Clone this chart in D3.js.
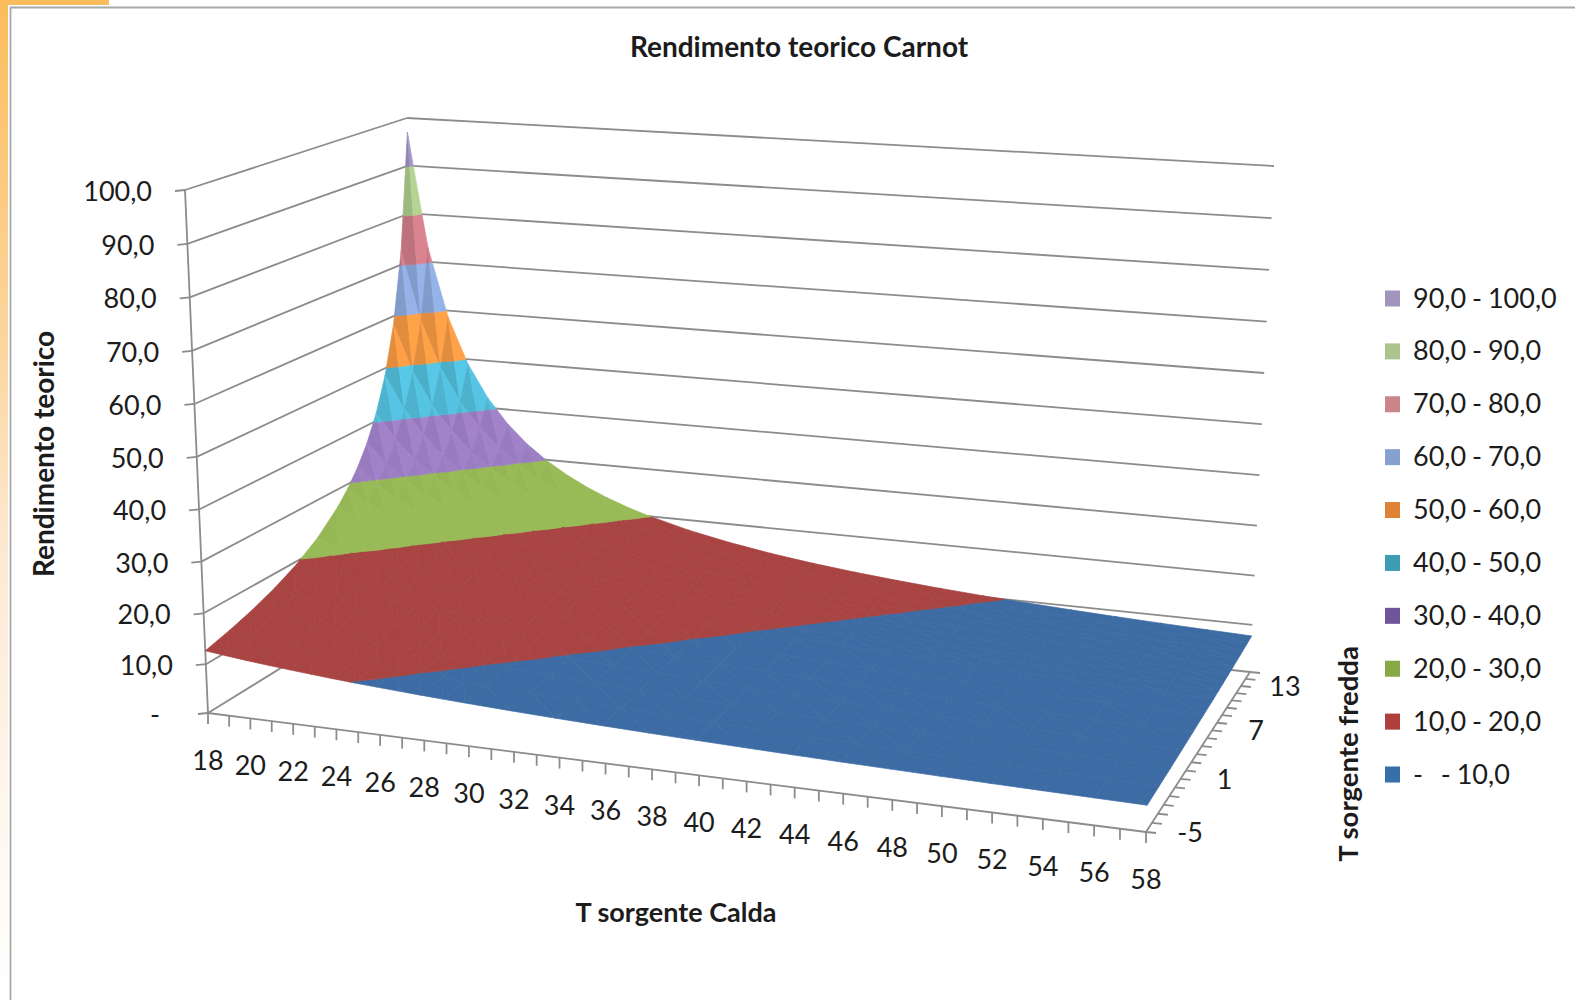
<!DOCTYPE html>
<html>
<head>
<meta charset="utf-8">
<script src="https://cdn.jsdelivr.net/npm/d3@7"></script>
<style>
  body { margin: 0; background: #fff; }
  text { font-family: Lato, sans-serif; fill: #1c1c1c; }
  .ttl { font-weight: 700; }
</style>
</head>
<body>
<div id="main"></div>
<script>
// T sorgente calda (columns of the surface)
const tCalda = [18,19,20,21,22,23,24,25,26,27,28,29,30,32,34,36,38,40,42,44,46,48,50,52,54,56,58];
// T sorgente fredda (rows of the surface)
const tFredda = [-5,-3,-1,1,3,5,7,8,9,10,11,12,13,14,15];
// rendimento teorico, one row per tFredda value
const rendimento = [
  [12.65,12.17,11.72,11.31,10.93,10.57,10.24,9.93,9.65,9.38,9.12,8.88,8.66,8.24,7.87,7.54,7.23,6.96,6.70,6.47,6.25,6.06,5.87,5.70,5.54,5.39,5.25],
  [13.86,13.27,12.74,12.25,11.80,11.38,11.00,10.64,10.31,10.00,9.71,9.44,9.18,8.71,8.30,7.92,7.59,7.28,7.00,6.74,6.51,6.29,6.09,5.91,5.74,5.58,5.43],
  [15.32,14.60,13.95,13.36,12.83,12.33,11.88,11.46,11.07,10.71,10.38,10.07,9.77,9.24,8.77,8.35,7.97,7.63,7.33,7.04,6.79,6.55,6.33,6.13,5.95,5.77,5.61],
  [17.12,16.22,15.42,14.70,14.05,13.45,12.91,12.42,11.96,11.54,11.15,10.79,10.45,9.84,9.30,8.83,8.41,8.03,7.68,7.37,7.09,6.83,6.59,6.37,6.17,5.98,5.81],
  [19.40,18.25,17.24,16.33,15.53,14.80,14.14,13.55,13.00,12.50,12.04,11.62,11.22,10.52,9.90,9.36,8.89,8.46,8.08,7.73,7.42,7.13,6.87,6.63,6.41,6.21,6.02],
  [22.38,20.86,19.53,18.38,17.35,16.44,15.63,14.90,14.24,13.64,13.09,12.58,12.12,11.30,10.59,9.97,9.42,8.94,8.51,8.13,7.78,7.47,7.18,6.91,6.67,6.45,6.25],
  [26.45,24.33,22.54,21.00,19.67,18.50,17.47,16.56,15.74,15.00,14.33,13.73,13.17,12.20,11.37,10.66,10.03,9.48,9.00,8.57,8.18,7.83,7.51,7.22,6.96,6.71,6.49],
  [29.10,26.55,24.42,22.62,21.07,19.73,18.56,17.53,16.61,15.79,15.05,14.38,13.77,12.71,11.81,11.04,10.37,9.78,9.26,8.81,8.39,8.03,7.69,7.39,7.11,6.85,6.62],
  [32.33,29.20,26.64,24.50,22.69,21.14,19.80,18.63,17.59,16.67,15.84,15.10,14.43,13.26,12.28,11.44,10.72,10.10,9.55,9.06,8.62,8.23,7.88,7.56,7.27,7.00,6.76],
  [36.38,32.44,29.30,26.73,24.58,22.77,21.21,19.87,18.69,17.65,16.72,15.89,15.15,13.86,12.79,11.88,11.11,10.43,9.84,9.32,8.86,8.45,8.08,7.74,7.43,7.15,6.90],
  [41.57,36.50,32.56,29.40,26.82,24.67,22.85,21.29,19.93,18.75,17.71,16.78,15.95,14.52,13.35,12.36,11.52,10.79,10.16,9.61,9.11,8.68,8.28,7.93,7.60,7.31,7.04],
  [48.50,41.71,36.63,32.67,29.50,26.91,24.75,22.92,21.36,20.00,18.81,17.76,16.83,15.25,13.95,12.88,11.96,11.18,10.50,9.91,9.38,8.92,8.50,8.13,7.79,7.48,7.20],
  [58.20,48.67,41.86,36.75,32.78,29.60,27.00,24.83,23.00,21.43,20.07,18.88,17.82,16.05,14.62,13.43,12.44,11.59,10.86,10.23,9.67,9.17,8.73,8.33,7.98,7.65,7.36],
  [72.75,58.40,48.83,42.00,36.88,32.89,29.70,27.09,24.92,23.08,21.50,20.13,18.94,16.94,15.35,14.05,12.96,12.04,11.25,10.57,9.97,9.44,8.97,8.55,8.18,7.83,7.52],
  [97.00,73.00,58.60,49.00,42.14,37.00,33.00,29.80,27.18,25.00,23.15,21.57,20.20,17.94,16.16,14.71,13.52,12.52,11.67,10.93,10.29,9.73,9.23,8.78,8.38,8.02,7.70]
];
const zTicks = [0,10,20,30,40,50,60,70,80,90,100];
const zTickLabels = ["-","10,0","20,0","30,0","40,0","50,0","60,0","70,0","80,0","90,0","100,0"];
const caldaLabels = [18,20,22,24,26,28,30,32,34,36,38,40,42,44,46,48,50,52,54,56,58];
const freddaLabels = [-5,1,7,13];
const bandLimits = [0,10,20,30,40,50,60,70,80,90,100];
const bandLabels = ["-   - 10,0","10,0 - 20,0","20,0 - 30,0","30,0 - 40,0","40,0 - 50,0","50,0 - 60,0","60,0 - 70,0","70,0 - 80,0","80,0 - 90,0","90,0 - 100,0"];
const bandColors = ["#3d6ba3","#a84442","#98ba57","#9d7fc4","#52bcd9","#f39743","#8ba7da","#cc7b88","#a9c68a","#9a8cbc"];
const legendColors = ["#376fa8","#b03f3c","#86a845","#70559a","#3c9cb4","#df8236","#87a1cf","#cb8487","#abc48d","#a195bd"];

const ctx = {
    w: 1575,
    h: 1000,
    // corners of the floor and of the top of the box: front-left, front-right, back-right, back-left
    floor: [[208,713],[1146,832],[1250,672],[420,582]],
    top: [[185,190],[1170,275],[1274,166],[407,118]]
};

const uScale = d3.scaleLinear().domain([18,58]).range([0,1]);
const vScale = d3.scaleLinear().domain([-5,15]).range([0,1]);
const zScale = d3.scalePow().exponent(1.03).domain([0,100]).range([0,1]);

// unit square -> quad (perspective)
function squareToQuad(q){
    let [p0,p1,p2,p3] = q;
    let sx = p0[0]-p1[0]+p2[0]-p3[0], sy = p0[1]-p1[1]+p2[1]-p3[1];
    let dx1 = p1[0]-p2[0], dx2 = p3[0]-p2[0], dy1 = p1[1]-p2[1], dy2 = p3[1]-p2[1];
    let den = dx1*dy2-dx2*dy1;
    let g = (sx*dy2-dx2*sy)/den, h = (dx1*sy-sx*dy1)/den;
    let a = p1[0]-p0[0]+g*p1[0], b = p3[0]-p0[0]+h*p3[0];
    let d = p1[1]-p0[1]+g*p1[1], e = p3[1]-p0[1]+h*p3[1];
    return function(u,v){
        let w = g*u+h*v+1;
        return [(a*u+b*v+p0[0])/w, (d*u+e*v+p0[1])/w];
    };
}
const floorMap = squareToQuad(ctx.floor);
const topMap = squareToQuad(ctx.top);

function project(calda, fredda, val){
    let u = uScale(calda), v = vScale(fredda), z = zScale(val);
    let a = floorMap(u,v), b = topMap(u,v);
    return [a[0]+(b[0]-a[0])*z, a[1]+(b[1]-a[1])*z];
}

// keep the part of a triangle whose value lies between lo and hi
function clipBand(tri, lo, hi){
    let clip = function(pts, inside, limit){
        let out = [];
        pts.forEach((p,i) => {
            let q = pts[(i+1)%pts.length];
            if(inside(p)) out.push(p);
            if(inside(p) !== inside(q)){
                let t = (limit-p[2])/(q[2]-p[2]);
                out.push([p[0]+(q[0]-p[0])*t, p[1]+(q[1]-p[1])*t, limit]);
            }
        });
        return out;
    };
    let res = clip(tri, (p) => p[2] >= lo, lo);
    if(res.length) res = clip(res, (p) => p[2] <= hi, hi);
    return res;
}

// brightness of a facet, flat facets stay at 1.
// the light sits across the mean slope so only neighbouring facets differ
function facetShade(tri){
    let P = tri.map((p) => [(p[0]-18)/20, (p[1]+5)/20, p[2]/100*0.35]);
    let a = [P[1][0]-P[0][0],P[1][1]-P[0][1],P[1][2]-P[0][2]];
    let b = [P[2][0]-P[0][0],P[2][1]-P[0][1],P[2][2]-P[0][2]];
    let n = [a[1]*b[2]-a[2]*b[1], a[2]*b[0]-a[0]*b[2], a[0]*b[1]-a[1]*b[0]];
    let len = Math.hypot(n[0],n[1],n[2]);
    if(n[2] < 0) len = -len;
    let shade = 1+0.9*(n[0]+n[1])/2/len;
    // the nearly flat part of the surface shows no facets
    if(Math.abs(shade-1) < 0.015) return 1;
    return Math.max(0.93, Math.min(1.07, shade));
}

function drawSurface(g){
    let line = d3.line().x((d) => d[0]).y((d) => d[1]);
    // back rows first, the left side is the far side
    for(let j = tFredda.length-2; j >= 0; j--){
        for(let i = 0; i < tCalda.length-1; i++){
            let A = [tCalda[i],tFredda[j],rendimento[j][i]];
            let B = [tCalda[i+1],tFredda[j],rendimento[j][i+1]];
            let C = [tCalda[i+1],tFredda[j+1],rendimento[j+1][i+1]];
            let D = [tCalda[i],tFredda[j+1],rendimento[j+1][i]];
            [[D,A,B],[D,B,C]].forEach((tri) => {
                let shade = facetShade(tri);
                bandColors.forEach((col,b) => {
                    let poly = clipBand(tri, bandLimits[b], bandLimits[b+1]);
                    if(poly.length < 3) return;
                    let c = d3.rgb(col);
                    let fill = d3.rgb(c.r*shade,c.g*shade,c.b*shade).formatHex();
                    g.append("path")
                        .attr("d", line(poly.map((p) => project(p[0],p[1],p[2])))+"Z")
                        .attr("fill", fill)
                        .attr("stroke", fill)
                        .attr("stroke-width", 0.7)
                        .attr("stroke-linejoin", "round");
                });
            });
        }
    }
}

function drawWalls(g){
    let addLine = function(a,b){
        g.append("line")
            .attr("x1",a[0]).attr("y1",a[1])
            .attr("x2",b[0]).attr("y2",b[1])
            .attr("stroke","#8c8c8c")
            .attr("stroke-width",1.8);
    };
    zTicks.forEach((z) => {
        let fl = project(18,-5,z), bl = project(18,15,z), br = project(58,15,z);
        addLine(fl,bl);
        addLine(bl,br);
        addLine([fl[0]-10,fl[1]+1],fl);
    });
    addLine(project(18,-5,0),project(18,-5,100));
    addLine(project(18,-5,0),project(58,-5,0));
    addLine(project(58,-5,0),project(58,15,0));
    d3.range(18,59).forEach((t) => {
        let p = project(t,-5,0);
        addLine(p,[p[0],p[1]+11]);
    });
    d3.range(-5,16).forEach((t) => {
        let p = project(58,t,0);
        addLine(p,[p[0]+10,p[1]+1]);
    });
}

function drawLabels(svg){
    svg.append("text").attr("class","ttl")
        .attr("x",799).attr("y",57)
        .attr("text-anchor","middle")
        .style("font-size","28px")
        .text("Rendimento teorico Carnot");
    svg.append("text").attr("class","ttl")
        .attr("transform","translate(54,454) rotate(-90)")
        .attr("text-anchor","middle")
        .style("font-size","28px")
        .text("Rendimento teorico");
    svg.append("text").attr("class","ttl")
        .attr("x",676).attr("y",922)
        .attr("text-anchor","middle")
        .style("font-size","27px")
        .text("T sorgente Calda");
    svg.append("text").attr("class","ttl")
        .attr("transform","translate(1358,754) rotate(-90)")
        .attr("text-anchor","middle")
        .style("font-size","27.5px")
        .text("T sorgente fredda");

    zTicks.forEach((z,i) => {
        let p = project(18,-5,z);
        svg.append("text")
            .attr("x", p[0] - (z === 0 ? 48 : 33))
            .attr("y", p[1]+11)
            .attr("text-anchor","end")
            .style("font-size","27px")
            .text(zTickLabels[i]);
    });
    caldaLabels.forEach((t) => {
        let p = project(t,-5,0);
        svg.append("text")
            .attr("x",p[0])
            .attr("y",p[1]+57)
            .attr("text-anchor","middle")
            .style("font-size","27px")
            .text(t);
    });
    freddaLabels.forEach((t) => {
        let p = project(58,t,0);
        svg.append("text")
            .attr("x",p[0]+44)
            .attr("y",p[1]+10)
            .attr("text-anchor","middle")
            .style("font-size","27px")
            .text(t);
    });
}

function drawLegend(svg){
    let y = d3.scalePoint().domain(d3.range(10)).range([774.5,298.5]);
    let legendG = svg.append("g").attr("id","legendG");
    bandLabels.forEach((lab,i) => {
        legendG.append("rect")
            .attr("x",1385).attr("y",y(i)-8)
            .attr("width",15).attr("height",16)
            .attr("fill",legendColors[i]);
        legendG.append("text")
            .attr("x",1413).attr("y",y(i)+9)
            .style("font-size","27px")
            .style("word-spacing","-1px")
            .style("white-space","pre")
            .attr("xml:space","preserve")
            .text(lab);
    });
}

function createViz(){
    let svgEl = d3.select("#main").append("svg")
        .attr("width",ctx.w).attr("height",ctx.h)
        .style("display","block");
    let grad = svgEl.append("defs").append("linearGradient")
        .attr("id","sideGrad").attr("x1",0).attr("x2",0).attr("y1",0).attr("y2",1);
    grad.append("stop").attr("offset","0%").attr("stop-color","#fbbd5c");
    grad.append("stop").attr("offset","35%").attr("stop-color","#fcd6a0");
    grad.append("stop").attr("offset","55%").attr("stop-color","#fde9d2");
    grad.append("stop").attr("offset","80%").attr("stop-color","#fff6ec");
    grad.append("stop").attr("offset","100%").attr("stop-color","#ffffff");
    svgEl.append("rect").attr("x",0).attr("y",0).attr("width",8).attr("height",ctx.h).attr("fill","url(#sideGrad)");
    svgEl.append("rect").attr("x",0).attr("y",0).attr("width",109).attr("height",5).attr("fill","#fbbd5c");
    svgEl.append("path").attr("d","M10.5,1000V7.5H1575").attr("fill","none").attr("stroke","#a8a8a8").attr("stroke-width",1.8);

    drawWalls(svgEl.append("g").attr("id","wallG"));
    drawSurface(svgEl.append("g").attr("id","surfaceG"));
    drawLabels(svgEl);
    drawLegend(svgEl);
}

createViz();
</script>
</body>
</html>
